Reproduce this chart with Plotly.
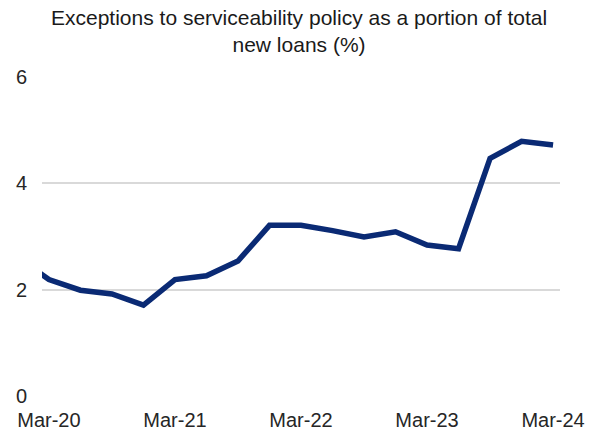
import plotly.graph_objects as go

# Quarterly data (Dec-19 point lies just outside the visible range, as in the source)
quarters = ["Dec-19", "Mar-20", "Jun-20", "Sep-20", "Dec-20", "Mar-21", "Jun-21", "Sep-21",
            "Dec-21", "Mar-22", "Jun-22", "Sep-22", "Dec-22", "Mar-23", "Jun-23",
            "Sep-23", "Dec-23", "Mar-24"]
values = [2.62, 2.19, 1.99, 1.92, 1.71, 2.19, 2.26, 2.54, 3.21, 3.21, 3.11, 2.99,
          3.09, 2.84, 2.77, 4.47, 4.79, 4.72]
x_index = list(range(-1, len(quarters) - 1))

tick_vals = [0, 4, 8, 12, 16]
tick_text = ["Mar-20", "Mar-21", "Mar-22", "Mar-23", "Mar-24"]
y_ticks = [0, 2, 4, 6]

title_text = "Exceptions to serviceability policy as a portion of total<br>new loans (%)"

fig = go.Figure()
fig.add_trace(go.Scatter(
    x=x_index, y=values, mode="lines",
    line=dict(color="#0a2a74", width=5.5),
    hoverinfo="skip", showlegend=False,
))

font_family = "Liberation Sans, Arial, sans-serif"

fig.add_annotation(
    text=title_text, xref="paper", yref="paper", x=0.497, y=1.145,
    xanchor="center", yanchor="middle", showarrow=False,
    font=dict(family=font_family, size=21, color="#1a1a1a"),
)

fig.update_layout(
    width=595, height=434,
    margin=dict(l=42, r=35, t=77, b=38, autoexpand=False),
    paper_bgcolor="white", plot_bgcolor="white",
    xaxis=dict(range=[-0.22, 16.22], tickvals=tick_vals, ticktext=tick_text,
               showgrid=False, zeroline=False, showline=False, ticks="",
               ticklabelstandoff=10,
               tickfont=dict(family=font_family, size=20, color="#262626"),
               fixedrange=True),
    yaxis=dict(range=[0, 6], tickvals=y_ticks, showgrid=True, gridcolor="#d9d9d9",
               gridwidth=1.5, zeroline=False, showline=False, ticks="",
               ticklabelstandoff=14,
               tickfont=dict(family=font_family, size=20, color="#262626"),
               fixedrange=True),
)

fig.write_html("out.html", config={"displayModeBar": False},
               post_script="document.body.style.margin='0';")
